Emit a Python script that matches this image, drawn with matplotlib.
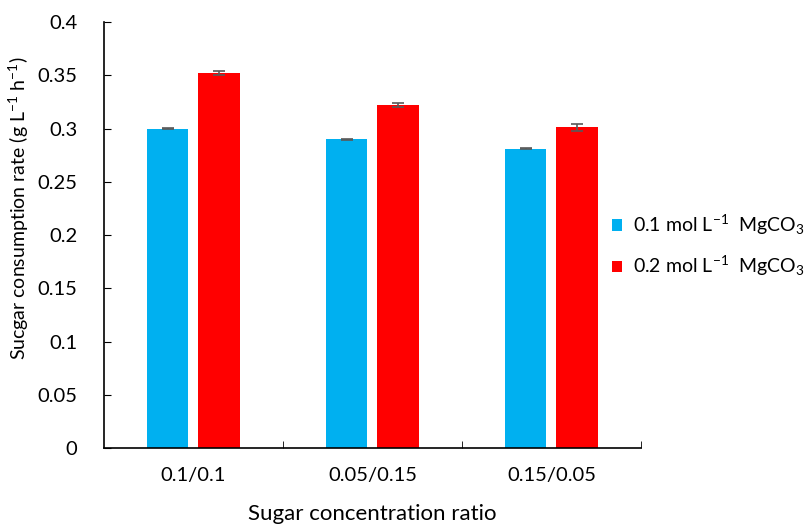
import matplotlib.pyplot as plt
import numpy as np

# data
categories = ['0.1/0.1', '0.05/0.15', '0.15/0.05']
rate_01 = [0.300, 0.290, 0.281]
err_01 = [0.0005, 0.0005, 0.0005]
rate_02 = [0.352, 0.322, 0.301]
err_02 = [0.0022, 0.0016, 0.0030]
labels = [r'0.1 mol L$^{-1}$  MgCO$_3$', r'0.2 mol L$^{-1}$  MgCO$_3$']

plt.rcParams['font.family'] = ['Lato', 'DejaVu Sans']
plt.rcParams['mathtext.fontset'] = 'custom'
plt.rcParams['mathtext.rm'] = 'Lato'
plt.rcParams['mathtext.it'] = 'Lato'
plt.rcParams['mathtext.default'] = 'rm'

fig = plt.figure(figsize=(8.08, 5.28), dpi=100)
ax = fig.add_axes([0.1287, 0.1515, 0.6645, 0.8068])

x = np.arange(len(categories))
w = 0.23
off = 0.143
ax.bar(x - off, rate_01, w, color='#00B0F0', label=labels[0],
       yerr=err_01, capsize=4, error_kw=dict(ecolor='#595959', elinewidth=1.2, capthick=1.2))
ax.bar(x + off, rate_02, w, color='#FF0000', label=labels[1],
       yerr=err_02, capsize=4, error_kw=dict(ecolor='#595959', elinewidth=1.2, capthick=1.2))

ax.set_xlim(-0.5, len(categories) - 0.5)
ax.set_ylim(0, 0.4)
ax.set_yticks(np.arange(0, 0.41, 0.05))
ax.set_yticklabels(['0', '0.05', '0.1', '0.15', '0.2', '0.25', '0.3', '0.35', '0.4'])
ax.tick_params(axis='y', direction='in', length=5, labelsize=14.5, pad=19)

ax.set_xticks(x)
ax.set_xticklabels(categories)
ax.tick_params(axis='x', length=0, labelsize=14.5, pad=14)
ax.set_xticks([0.5, 1.5, 2.5], minor=True)
ax.tick_params(axis='x', which='minor', direction='in', length=5)

for s in ['top', 'right']:
    ax.spines[s].set_visible(False)
for s in ['left', 'bottom']:
    ax.spines[s].set_linewidth(1.2)

ax.set_xlabel('Sugar concentration ratio', fontsize=16, labelpad=14)
ax.set_ylabel(r'Sucgar consumption rate (g L$^{-1}$ h$^{-1}$)', fontsize=14)
ax.yaxis.set_label_coords(-0.136, 0.563)

fig.legend(loc='center left', bbox_to_anchor=(0.757, 0.535), frameon=False,
           fontsize=14, handlelength=0.55, handleheight=0.55, handletextpad=0.55,
           labelspacing=0.9, borderpad=0, borderaxespad=0)

fig.savefig('out.png', dpi=100)
